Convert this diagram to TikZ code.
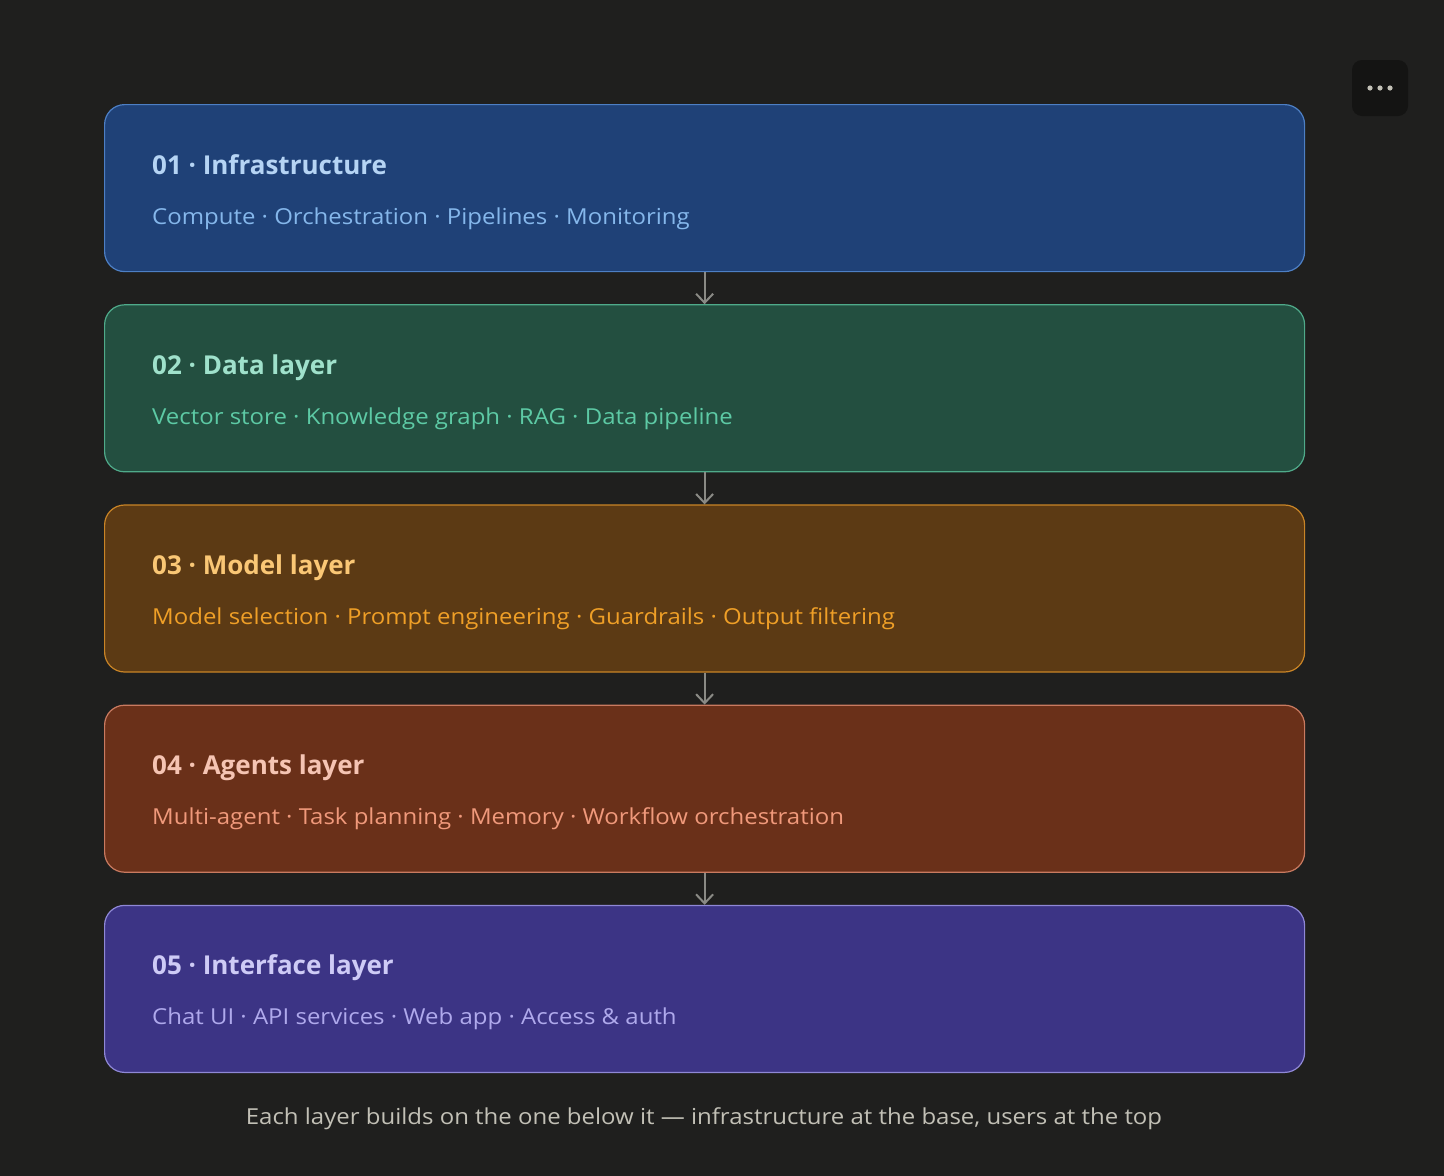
\documentclass[tikz,border=0pt]{standalone}
\usepackage{fontspec}
\setmainfont{Open Sans}
\newfontfamily\itemfont{Open Sans}[FakeStretch=1.09]
\usepackage{tikz}
\usetikzlibrary{positioning,arrows.meta}

\definecolor{bgdark}{HTML}{1F1F1E}
\definecolor{menubg}{HTML}{141413}
\definecolor{arrowgray}{HTML}{8A8A85}
\definecolor{captiongray}{HTML}{C2C0B6}
% infrastructure
\definecolor{infraFill}{HTML}{1F4177}
\definecolor{infraLine}{HTML}{4D7FC4}
\definecolor{infraHead}{HTML}{B5D4F4}
\definecolor{infraSub}{HTML}{85B7EB}
% data
\definecolor{dataFill}{HTML}{234F40}
\definecolor{dataLine}{HTML}{4FAA8A}
\definecolor{dataHead}{HTML}{9FE1CB}
\definecolor{dataSub}{HTML}{5DCAA5}
% model
\definecolor{modelFill}{HTML}{5C3A14}
\definecolor{modelLine}{HTML}{C98426}
\definecolor{modelHead}{HTML}{FAC775}
\definecolor{modelSub}{HTML}{EF9F27}
% agents
\definecolor{agentFill}{HTML}{6A3019}
\definecolor{agentLine}{HTML}{C97A60}
\definecolor{agentHead}{HTML}{F5C4B3}
\definecolor{agentSub}{HTML}{F0997B}
% interface
\definecolor{uiFill}{HTML}{3C3485}
\definecolor{uiLine}{HTML}{8F88D6}
\definecolor{uiHead}{HTML}{CECBF6}
\definecolor{uiSub}{HTML}{AFA9EC}

\tikzset{
  layerbox/.style={draw, line width=1.2pt, rounded corners=20pt, minimum width=1200pt, minimum height=167pt, inner sep=0pt},
  layerhead/.style={anchor=base west, inner sep=0pt, font=\fontsize{26}{31}\selectfont\bfseries},
  layersub/.style={anchor=base west, inner sep=0pt, font=\itemfont\fontsize{22}{27}\selectfont},
  flow/.style={draw=arrowgray, line width=2pt, -{Straight Barb[length=9pt,width=17pt]}}
}

\begin{document}
\begin{tikzpicture}[x=1pt,y=-1pt]
\useasboundingbox[fill=bgdark] (0,0) rectangle (1444,1176);

% menu button
\node[fill=menubg, rounded corners=10pt, minimum width=56pt, minimum height=56pt] at (1380,88)(menu){};
\foreach \dx in {-10,0,10}
  \fill[captiongray] ([xshift=\dx pt]menu.center) circle (2.6pt);

% layers
\node[layerbox, fill=infraFill, draw=infraLine, anchor=north west] at (104,104)(infra){};
\node[layerbox, fill=dataFill, draw=dataLine, below=32pt of infra](data){};
\node[layerbox, fill=modelFill, draw=modelLine, below=32pt of data](model){};
\node[layerbox, fill=agentFill, draw=agentLine, below=32pt of model](agents){};
\node[layerbox, fill=uiFill, draw=uiLine, below=32pt of agents](ui){};

% titles and items
\node[layerhead, text=infraHead] at ([xshift=48pt, yshift=-70pt]infra.north west)(infraT){01 · Infrastructure};
\node[layersub, text=infraSub] at ([xshift=48pt, yshift=-120pt]infra.north west)(infraS){Compute · Orchestration · Pipelines · Monitoring};

\node[layerhead, text=dataHead] at ([xshift=48pt, yshift=-70pt]data.north west)(dataT){02 · Data layer};
\node[layersub, text=dataSub] at ([xshift=48pt, yshift=-120pt]data.north west)(dataS){Vector store · Knowledge graph · RAG · Data pipeline};

\node[layerhead, text=modelHead] at ([xshift=48pt, yshift=-70pt]model.north west)(modelT){03 · Model layer};
\node[layersub, text=modelSub] at ([xshift=48pt, yshift=-120pt]model.north west)(modelS){Model selection · Prompt engineering · Guardrails · Output filtering};

\node[layerhead, text=agentHead] at ([xshift=48pt, yshift=-70pt]agents.north west)(agentsT){04 · Agents layer};
\node[layersub, text=agentSub] at ([xshift=48pt, yshift=-120pt]agents.north west)(agentsS){Multi-agent · Task planning · Memory · Workflow orchestration};

\node[layerhead, text=uiHead] at ([xshift=48pt, yshift=-70pt]ui.north west)(uiT){05 · Interface layer};
\node[layersub, text=uiSub] at ([xshift=48pt, yshift=-120pt]ui.north west)(uiS){Chat UI · API services · Web app · Access \& auth};

% connectors
\draw[flow] (infra.south) -- (data.north);
\draw[flow] (data.south) -- (model.north);
\draw[flow] (model.south) -- (agents.north);
\draw[flow] (agents.south) -- (ui.north);

% caption
\node[text=captiongray, font=\itemfont\fontsize{22}{27}\selectfont, anchor=base, inner sep=0pt] at (704,1124)(caption){Each layer builds on the one below it — infrastructure at the base, users at the top};
\end{tikzpicture}
\end{document}
